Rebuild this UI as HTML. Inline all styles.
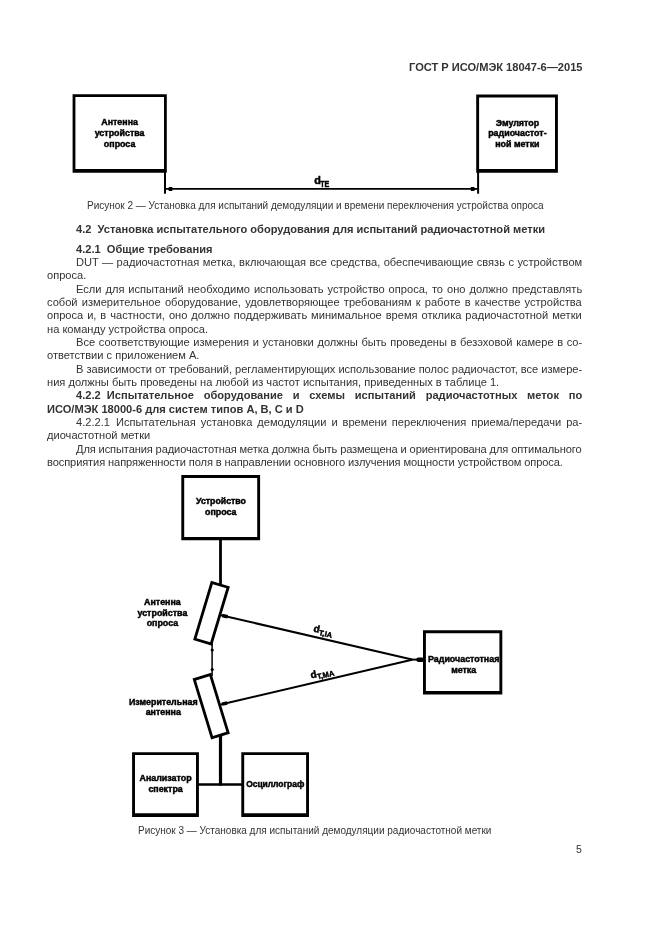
<!DOCTYPE html>
<html lang="ru"><head><meta charset="utf-8"><title>ГОСТ Р ИСО/МЭК 18047-6—2015</title>
<style>
html,body{margin:0;padding:0;background:#fff;}
body{width:661px;height:935px;position:relative;overflow:hidden;font-family:"Liberation Sans",sans-serif;font-size:11.1px;color:#333;}
.l{position:absolute;will-change:transform;white-space:pre;line-height:14px;height:14px;}
.n{word-spacing:0;}
svg{position:absolute;left:0;top:0;will-change:transform;}
svg text{font-family:"Liberation Sans",sans-serif;font-weight:bold;fill:#000;stroke:#000;stroke-width:0.45px;}
</style></head><body>
<svg width="661" height="935" viewBox="0 0 661 935">
<path fill="#000" fill-rule="evenodd" d="M72.60 94.20H166.80V172.80H72.60Z M75.40 97.00V169.10H164.00V97.00Z"/>
<path fill="#000" fill-rule="evenodd" d="M476.20 94.60H557.90V172.70H476.20Z M479.10 97.50V169.10H555.00V97.50Z"/>
<line x1="165.00" y1="171.00" x2="165.00" y2="193.70" stroke="#000" stroke-width="2.0" stroke-linecap="butt"/>
<line x1="478.10" y1="171.00" x2="478.10" y2="193.70" stroke="#000" stroke-width="2.0" stroke-linecap="butt"/>
<line x1="165.00" y1="188.95" x2="478.00" y2="188.95" stroke="#000" stroke-width="1.8" stroke-linecap="butt"/>
<polygon points="167.4,188.95 169.2,187.0 172.3,187.0 172.3,190.9 169.2,190.9" fill="#000"/>
<polygon points="475.8,188.95 474.0,187.0 470.8,187.0 470.8,190.9 474.0,190.9" fill="#000"/>
<text x="119.6" y="125.2" font-size="8.9" text-anchor="middle">Антенна</text>
<text x="119.6" y="136.2" font-size="8.9" text-anchor="middle">устройства</text>
<text x="119.6" y="146.8" font-size="8.9" text-anchor="middle">опроса</text>
<text x="517.4" y="126.3" font-size="8.9" text-anchor="middle">Эмулятор</text>
<text x="517.4" y="136.3" font-size="8.9" text-anchor="middle">радиочастот-</text>
<text x="517.4" y="146.6" font-size="8.9" text-anchor="middle">ной метки</text>
<text x="314.3" y="184.4" font-size="10.8">d</text>
<text transform="translate(320.2 186.8) scale(0.78 1)" font-size="9.2">TE</text>
<path fill="#000" fill-rule="evenodd" d="M181.30 475.00H260.10V540.20H181.30Z M184.20 477.90V536.90H257.20V477.90Z"/>
<line x1="220.50" y1="538.00" x2="220.50" y2="584.00" stroke="#000" stroke-width="2.8" stroke-linecap="butt"/>
<rect x="203.00" y="583.65" width="17.00" height="59.20" fill="none" stroke="#000" stroke-width="2.8" transform="rotate(16.7 211.5 613.25)"/>
<rect x="202.80" y="675.70" width="16.80" height="60.80" fill="none" stroke="#000" stroke-width="2.8" transform="rotate(-17.0 211.2 706.1)"/>
<line x1="212.10" y1="643.00" x2="212.10" y2="676.00" stroke="#000" stroke-width="1.5" stroke-linecap="butt"/>
<circle cx="212.2" cy="650" r="1.6" fill="#000"/>
<circle cx="212.2" cy="669.5" r="1.6" fill="#000"/>
<line x1="221.00" y1="615.20" x2="412.00" y2="659.50" stroke="#000" stroke-width="2.0" stroke-linecap="butt"/>
<line x1="222.30" y1="615.50" x2="227.60" y2="616.75" stroke="#000" stroke-width="3.6" stroke-linecap="butt"/>
<line x1="220.80" y1="704.50" x2="412.00" y2="659.70" stroke="#000" stroke-width="2.0" stroke-linecap="butt"/>
<line x1="222.00" y1="704.20" x2="227.20" y2="703.00" stroke="#000" stroke-width="3.4" stroke-linecap="butt"/>
<line x1="411.00" y1="659.60" x2="424.00" y2="659.60" stroke="#000" stroke-width="2.0" stroke-linecap="butt"/>
<polygon points="415.6,659.6 417.6,657.4 422.8,657.4 422.8,661.9 417.6,661.9" fill="#000"/>
<path fill="#000" fill-rule="evenodd" d="M423.00 630.30H502.30V694.60H423.00Z M425.90 633.20V691.00H499.40V633.20Z"/>
<line x1="220.50" y1="735.00" x2="220.50" y2="785.60" stroke="#000" stroke-width="3.2" stroke-linecap="butt"/>
<line x1="198.00" y1="784.50" x2="242.50" y2="784.50" stroke="#000" stroke-width="2.3" stroke-linecap="butt"/>
<path fill="#000" fill-rule="evenodd" d="M132.10 752.20H198.90V816.90H132.10Z M135.00 755.10V813.30H196.00V755.10Z"/>
<path fill="#000" fill-rule="evenodd" d="M241.30 752.20H309.00V816.90H241.30Z M244.20 755.10V813.30H306.10V755.10Z"/>
<text x="221.0" y="504.0" font-size="8.75" text-anchor="middle">Устройство</text>
<text x="220.8" y="514.6" font-size="8.9" text-anchor="middle">опроса</text>
<text x="162.4" y="605.1" font-size="8.9" text-anchor="middle">Антенна</text>
<text x="162.4" y="616.0" font-size="8.9" text-anchor="middle">устройства</text>
<text x="162.4" y="626.0" font-size="8.9" text-anchor="middle">опроса</text>
<text x="163.3" y="704.9" font-size="8.9" text-anchor="middle">Измерительная</text>
<text x="163.3" y="715.1" font-size="8.9" text-anchor="middle">антенна</text>
<text x="463.7" y="662.0" font-size="8.9" text-anchor="middle">Радиочастотная</text>
<text x="463.7" y="672.7" font-size="8.9" text-anchor="middle">метка</text>
<text x="165.6" y="780.8" font-size="8.9" text-anchor="middle">Анализатор</text>
<text x="165.6" y="791.8" font-size="8.9" text-anchor="middle">спектра</text>
<text x="275.2" y="786.9" font-size="8.45" text-anchor="middle">Осциллограф</text>
<text x="313" y="631.5" font-size="10" transform="rotate(13 313 631.5)">d<tspan font-size="7.5" dy="2.2">T,IA</tspan></text>
<text x="311.2" y="678.6" font-size="10" transform="rotate(-13 311.2 678.6)">d<tspan font-size="7.5" dy="2.2">T,MA</tspan></text>
</svg>
<div class="l" style="left:409.0px;top:60px;font-weight:bold;letter-spacing:-0.0096px;">ГОСТ Р ИСО/МЭК 18047-6—2015</div>
<div class="l" style="left:86.6px;top:199px;font-size:10.0px;letter-spacing:-0.0073px;">Рисунок 2 — Установка для испытаний демодуляции и времени переключения устройства опроса</div>
<div class="l" style="left:76.0px;top:222px;font-weight:bold;letter-spacing:-0.0125px;"><span class="n">4.2&nbsp; </span>Установка испытательного оборудования для испытаний радиочастотной метки</div>
<div class="l" style="left:76.0px;top:242px;font-weight:bold;"><span class="n">4.2.1&nbsp; </span>Общие требования</div>
<div class="l" style="left:75.8px;top:255px;word-spacing:0.370px;">DUT — радиочастотная метка, включающая все средства, обеспечивающие связь с устройством</div>
<div class="l" style="left:47.3px;top:268px;">опроса.</div>
<div class="l" style="left:75.8px;top:282px;word-spacing:0.879px;">Если для испытаний необходимо использовать устройство опроса, то оно должно представлять</div>
<div class="l" style="left:47.3px;top:295px;word-spacing:1.114px;">собой измерительное оборудование, удовлетворяющее требованиям к работе в качестве устройства</div>
<div class="l" style="left:47.3px;top:308px;word-spacing:0.841px;">опроса и, в частности, оно должно поддерживать минимальное время отклика радиочастотной метки</div>
<div class="l" style="left:47.3px;top:322px;">на команду устройства опроса.</div>
<div class="l" style="left:75.8px;top:335px;word-spacing:0.517px;">Все соответствующие измерения и установки должны быть проведены в безэховой камере в со-</div>
<div class="l" style="left:47.3px;top:348px;">ответствии с приложением А.</div>
<div class="l" style="left:75.8px;top:362px;letter-spacing:-0.0267px;">В зависимости от требований, регламентирующих использование полос радиочастот, все измере-</div>
<div class="l" style="left:47.3px;top:375px;">ния должны быть проведены на любой из частот испытания, приведенных в таблице 1.</div>
<div class="l" style="left:75.8px;top:388px;font-weight:bold;word-spacing:6.705px;"><span class="n">4.2.2&nbsp; </span>Испытательное оборудование и схемы испытаний радиочастотных меток по</div>
<div class="l" style="left:47.3px;top:402px;font-weight:bold;">ИСО/МЭК 18000-6 для систем типов А, В, С и D</div>
<div class="l" style="left:75.8px;top:415px;word-spacing:1.870px;"><span class="n">4.2.2.1&nbsp; </span>Испытательная установка демодуляции и времени переключения приема/передачи ра-</div>
<div class="l" style="left:47.3px;top:428px;">диочастотной метки</div>
<div class="l" style="left:75.8px;top:442px;letter-spacing:-0.1232px;">Для испытания радиочастотная метка должна быть размещена и ориентирована для оптимального</div>
<div class="l" style="left:47.3px;top:455px;letter-spacing:-0.1069px;">восприятия напряженности поля в направлении основного излучения мощности устройством опроса.</div>
<div class="l" style="left:138.0px;top:824px;font-size:10.0px;letter-spacing:-0.0017px;">Рисунок 3 — Установка для испытаний демодуляции радиочастотной метки</div>
<div class="l" style="left:576.4px;top:842px;font-size:10.5px;">5</div>
</body></html>
